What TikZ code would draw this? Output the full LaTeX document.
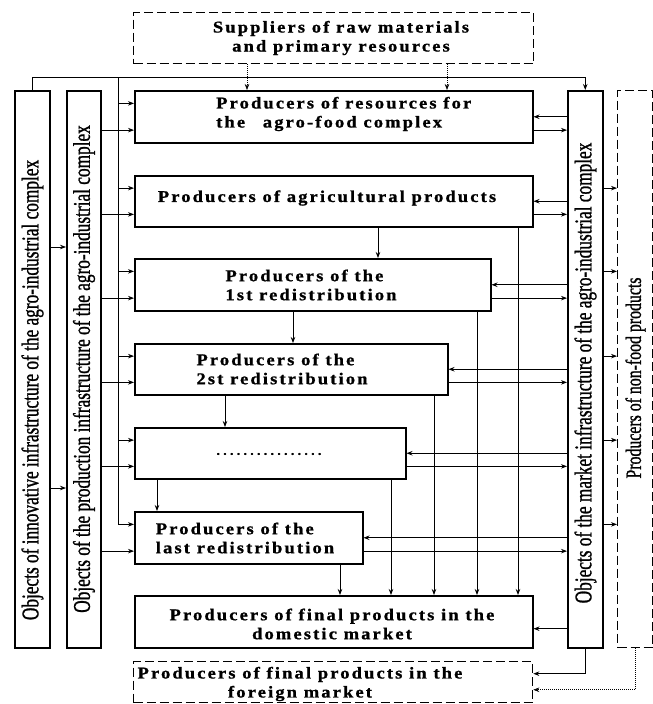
\documentclass[tikz,border=0pt]{standalone}
\usepackage{fontspec}
\setmainfont{Liberation Serif}
\newfontfamily\boxfont{Liberation Serif}[LetterSpace=13,FakeStretch=1.12,FakeBold=1]
\newfontfamily\barfont{Liberation Serif}[FakeStretch=0.72,FakeBold=1]
\usetikzlibrary{arrows.meta,calc}
\begin{document}
\begin{tikzpicture}[x=1pt,y=-1pt,
	box/.style={draw,line width=1.5pt,anchor=north west,inner sep=0pt},
	dbox/.style={box,line width=1.3pt,dash pattern=on 9pt off 4pt},
	txt/.style={font=\boxfont\bfseries\fontsize{16.5}{19}\selectfont,align=center,inner sep=0pt},
	vtxt/.style={font=\barfont\fontsize{24}{27}\selectfont,rotate=90,inner sep=0pt},
	arr/.style={line width=0.8pt,-{Stealth[length=6pt,width=4.5pt]}},
	dotarr/.style={arr,line width=0.6pt,dash pattern=on 1pt off 1pt}]
	\useasboundingbox (0,0) rectangle (653,704);
	% boxes
	\node[dbox,minimum width=400pt,minimum height=51pt] (sup) at (133,12) {};
	\node[box,minimum width=398pt,minimum height=52pt] (b1) at (134,90) {};
	\node[box,minimum width=398pt,minimum height=51pt] (b2) at (134,175) {};
	\node[box,minimum width=356pt,minimum height=52pt] (b3) at (134,258) {};
	\node[box,minimum width=313pt,minimum height=51pt] (b4) at (134,343) {};
	\node[box,minimum width=271pt,minimum height=51pt] (b5) at (134,427) {};
	\node[box,minimum width=228pt,minimum height=52pt] (b6) at (134,511) {};
	\node[box,minimum width=398pt,minimum height=52pt] (b7) at (134,595) {};
	\node[dbox,minimum width=399pt,minimum height=41pt] (b8) at (133,661) {};
	% bars
	\node[box,minimum width=35pt,minimum height=557pt] (ii) at (14,90) {};
	\node[box,minimum width=34pt,minimum height=557pt] (pi) at (66,90) {};
	\node[box,minimum width=35pt,minimum height=557pt] (mi) at (567,90) {};
	\node[dbox,minimum width=35pt,minimum height=557pt] (nf) at (617,90) {};
	% texts
	\node[txt] (sup-t) at (341,38) {Suppliers of raw materials\\and primary resources};
	\node[txt,align=left,anchor=west] (b1-t) at (216,114) {Producers of resources for\\the\hspace{11pt} agro-food complex};
	\node[txt] (b2-t) at (327,198) {Producers of agricultural products};
	\node[txt,align=left] (b3-t) at (311,285) {Producers of the\\1st redistribution};
	\node[txt,align=left] (b4-t) at (282,369) {Producers of the\\2st redistribution};
	\node[txt] (b5-t) at (270,454) {\textmd{................}};
	\node[txt,align=left] (b6-t) at (245,538) {Producers of the\\last redistribution};
	\node[txt] (b7-t) at (332,624) {Producers of final products in the\\domestic market};
	\node[txt] (b8-t) at (300,684) {Producers of final products in the\\foreign market};
	\node[vtxt] (ii-t) at (32.5,390) {Objects of innovative infrastructure of the agro-industrial complex};
	\node[vtxt] (pi-t) at (84,369) {Objects of the production infrastructure of the agro-industrial complex};
	\node[vtxt] (mi-t) at (585.5,373) {Objects of the market infrastructure of the agro-industrial complex};
	\node[vtxt,font=\barfont\fontsize{22}{25}\selectfont] (nf-t) at (635.5,378) {Producers of non-food products};
	% points on the box sides
	\foreach \b in {b1,b2,b3,b4,b5,b6}{
		\coordinate (\b-l1) at ($(\b.north west)!0.25!(\b.south west)$);
		\coordinate (\b-l2) at ($(\b.north west)!0.75!(\b.south west)$);
		\coordinate (\b-r1) at ($(\b.north east)!0.5!(\b.south east)$);
		\coordinate (\b-r2) at ($(\b.north east)!0.75!(\b.south east)$);
	}
	\coordinate (b7-r) at ($(b7.north east)!0.63!(b7.south east)$);
	% top line and left bus
	\draw[arr] (ii.north) -- ++(0,-13) -| (mi.north);
	\coordinate (bus) at (118,77);
	\draw[line width=0.8pt] (bus) -- (bus |- b6-l1);
	\draw[dotarr] (sup.south -| 247,0) -- (b1.north -| 247,0);
	\draw[dotarr] (sup.south -| 447,0) -- (b1.north -| 447,0);
	\foreach \b in {b1,b2,b3,b4,b5,b6}{
		\draw[arr] (bus |- \b-l1) -- (\b-l1);
		\draw[arr] (pi.east |- \b-l2) -- (\b-l2);
		\draw[arr] (mi.west |- \b-r1) -- (\b-r1);
		\draw[arr] (\b-r2) -- (mi.west |- \b-r2);
	}
	\draw[arr] (mi.west |- b7-r) -- (b7-r);
	\foreach \b in {b2,b3,b4,b5,b6}
		\draw[arr] (mi.east |- \b-l1) -- (nf.west |- \b-l1);
	\draw[arr] (ii.east |- 0,247) -- (pi.west |- 0,247);
	\draw[arr] (ii.east |- 0,488) -- (pi.west |- 0,488);
	% chain of redistribution
	\draw[arr] (b2.south -| 378,0) -- (b3.north -| 378,0);
	\draw[arr] (b3.south -| 293,0) -- (b4.north -| 293,0);
	\draw[arr] (b4.south -| 225,0) -- (b5.north -| 225,0);
	\draw[arr] (b5.south -| 157,0) -- (b6.north -| 157,0);
	% down to the domestic market
	\draw[arr] (b2.south -| 518,0) -- (b7.north -| 518,0);
	\draw[arr] (b3.south -| 477,0) -- (b7.north -| 477,0);
	\draw[arr] (b4.south -| 434,0) -- (b7.north -| 434,0);
	\draw[arr] (b5.south -| 391,0) -- (b7.north -| 391,0);
	\draw[arr] (b6.south -| 340,0) -- (b7.north -| 340,0);
	% foreign market
	\draw[arr] (mi.south) |- ($(b8.north east)!0.3!(b8.south east)$);
	\draw[dotarr] (nf.south) |- ($(b8.north east)!0.68!(b8.south east)$);
\end{tikzpicture}
\end{document}
